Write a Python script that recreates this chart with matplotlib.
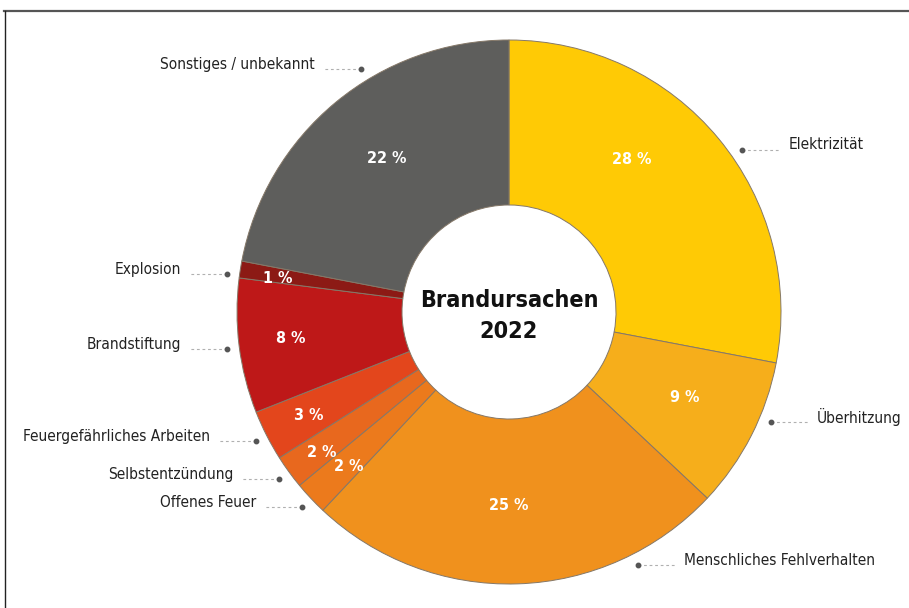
import numpy as np
import matplotlib
matplotlib.use("Agg")
import matplotlib.pyplot as plt
from matplotlib.lines import Line2D
from matplotlib import font_manager

# pick a narrow sans if one is installed, else plain Liberation Sans a bit smaller
entries = font_manager.fontManager.ttflist
names = {f.name for f in entries}
stretch = 'normal'
scale = 1.0
if 'Liberation Sans Narrow' in names:
    family = 'Liberation Sans Narrow'
elif any(f.name == 'DejaVu Sans' and str(f.stretch) in ('condensed', 'semi-condensed') for f in entries):
    family = 'DejaVu Sans'
    stretch = 'condensed'
    scale = 0.92
else:
    family = 'Liberation Sans' if 'Liberation Sans' in names else 'DejaVu Sans'
    scale = 0.86
plt.rcParams['font.family'] = [family, 'DejaVu Sans']
plt.rcParams['font.stretch'] = stretch

# data, clockwise from 12 o'clock
causes = ['Elektrizität', 'Überhitzung', 'Menschliches Fehlverhalten', 'Offenes Feuer',
          'Selbstentzündung', 'Feuergefährliches Arbeiten', 'Brandstiftung', 'Explosion',
          'Sonstiges / unbekannt']
shares = [28, 9, 25, 2, 2, 3, 8, 1, 22]
colors = ['#FFCA05', '#F6AE1B', '#F0911D', '#EC7A1C', '#E8681E', '#E3461C',
          '#BE1818', '#8C1A15', '#5E5E5C']

# label placement tweaks (style only)
pct_dist = [0.72, 0.72, 0.71, 0.82, 0.86, 0.83, 0.81, 0.86, 0.72]
pct_shift = [11.4, 1.1, -1.8, 0.8, 0.8, 0.3, -0.2, 0.7, -1.0]
lbl_shift = [-4.8, 4.2, 25.2, 0.2, 0.0, 0.0, 0.3, 1.4, -8.2]

W, H = 909, 608
fig = plt.figure(figsize=(W / 100, H / 100), dpi=100)
ax = fig.add_axes([0, 0, 1, 1])

cx, cy = 509, H - 312   # pie centre in pixel units (y up)
R = 272
hole = 107

wedges, _ = ax.pie(shares, colors=colors, startangle=90, counterclock=False,
                   center=(cx, cy), radius=R,
                   wedgeprops=dict(width=R - hole, edgecolor='#857868', linewidth=0.7))

for i, w in enumerate(wedges):
    mid = (w.theta1 + w.theta2) / 2

    # percent label inside the ring
    a = np.deg2rad(mid + pct_shift[i])
    r = pct_dist[i] * R
    ax.text(cx + r * np.cos(a), cy + r * np.sin(a), f'{shares[i]} %',
            ha='center', va='center', color='white', fontsize=12.5 * scale,
            fontweight='bold')

    # outside label with dotted leader
    a = np.deg2rad(mid + lbl_shift[i])
    rd = 1.045 * R
    dx, dy = cx + rd * np.cos(a), cy + rd * np.sin(a)
    side = 1 if np.cos(a) > 0 else -1
    ax.plot([dx, dx + side * 38], [dy, dy], color='#b0b0b0', lw=0.8,
            linestyle=(0, (2.5, 2.5)))
    ax.plot(dx, dy, 'o', color='#555555', markersize=3.2)
    ax.text(dx + side * 46, dy + 5, causes[i], ha='left' if side > 0 else 'right',
            va='center', fontsize=12 * scale, color='#222222')

ax.text(cx, cy - 4, 'Brandursachen\n2022', ha='center', va='center',
        fontsize=18.2 * scale, fontweight='bold', color='#111111', linespacing=1.4)

# frame of the original graphic
ax.add_line(Line2D([4, W], [H - 10.5, H - 10.5], color='#555555', lw=1.6))
ax.add_line(Line2D([4.5, 4.5], [0, H - 10.5], color='#222222', lw=1.0))

ax.set_xlim(0, W)
ax.set_ylim(0, H)
ax.set_aspect('auto')
ax.axis('off')

fig.savefig('out.png', dpi=100, facecolor='white')
